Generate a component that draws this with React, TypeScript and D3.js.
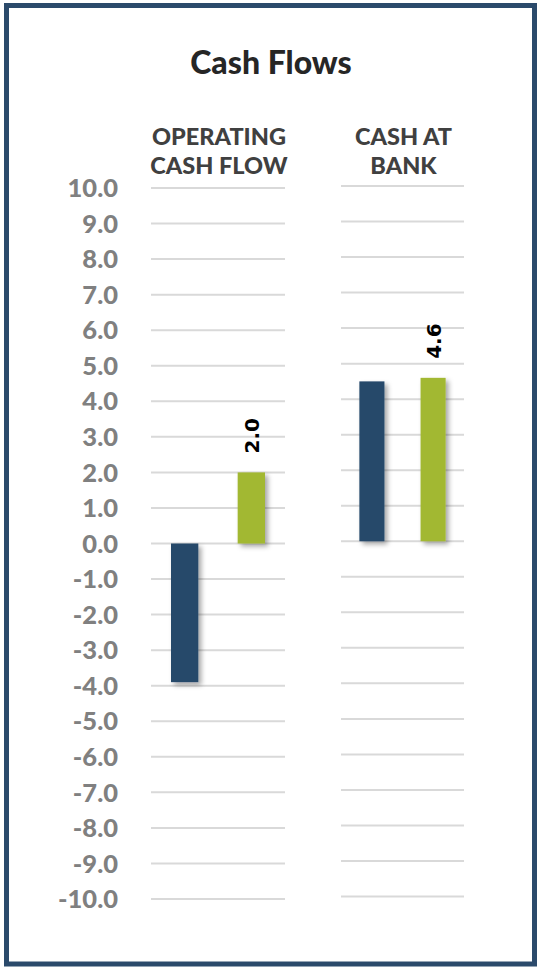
import React from "react";
import * as d3 from "d3";

const categories = ["OPERATING CASH FLOW", "CASH AT BANK"];
const categoryLines = [["OPERATING", "CASH FLOW"], ["CASH AT", "BANK"]];
const seriesNames = ["Prior", "Current"];
const seriesPrior = [-3.9, 4.5];
const seriesCurrent = [2.0, 4.6];
const tickValues = d3.range(10, -10.5, -1);
const labelFlags = [false, true];

const W = 538;
const H = 967;
const colors = ["#27496b", "#a2b832"];

// panel geometry per category
const panels = [
  { x0: 151, x1: 285, yTop: 188, yBot: 899 },
  { x0: 341, x1: 464, yTop: 186, yBot: 896.5 },
];

export default function App() {
  const series = [seriesPrior, seriesCurrent];
  const leftY = d3.scaleLinear().domain([10, -10]).range([panels[0].yTop, panels[0].yBot]);
  const fontNum = "Lato, 'Open Sans', sans-serif";
  return (
    <svg width={W} height={H} style={{ position: "absolute", left: 0, top: 0 }} xmlns="http://www.w3.org/2000/svg">
      <defs>
        <filter id="sh" x="-50%" y="-20%" width="200%" height="140%">
          <feDropShadow dx="3" dy="3" stdDeviation="2.5" floodColor="#000" floodOpacity="0.35" />
        </filter>
      </defs>
      <rect x={0} y={0} width={W} height={H} fill="#fff" />
      <rect x={6.5} y={5.5} width={528} height={958.5} fill="#fff" stroke="#2b4a6b" strokeWidth={5} />
      <text x={271} y={74} textAnchor="middle" fontFamily={fontNum} fontWeight={900} fontSize={32} fill="#262626">
        Cash Flows
      </text>
      {tickValues.map((v) => (
        <text key={v} x={118} y={leftY(v)} dy="0.36em" textAnchor="end" fontFamily={fontNum} fontWeight={900} fontSize={25.5} fill="#808080">
          {v.toFixed(1)}
        </text>
      ))}
      {categories.map((c, ci) => {
        const p = panels[ci];
        const y = d3.scaleLinear().domain([10, -10]).range([p.yTop, p.yBot]);
        const x = d3.scaleBand<number>().domain([0, 1]).range([p.x0, p.x1]).paddingInner(0.59).paddingOuter(0.3);
        const cx = (p.x0 + p.x1) / 2;
        return (
          <g key={c}>
            {categoryLines[ci].map((ln, li) => (
              <text key={li} x={cx + 1} y={145 + li * 29} textAnchor="middle" fontFamily={fontNum} fontWeight={900} fontSize={23.5} fill="#404040">
                {ln}
              </text>
            ))}
            {tickValues.map((v) => (
              <line key={v} x1={p.x0} x2={p.x1} y1={y(v)} y2={y(v)} stroke="#d9d9d9" strokeWidth={2} />
            ))}
            {series.map((s, si) => {
              const val = s[ci];
              const top = y(Math.max(0, val));
              const bot = y(Math.min(0, val));
              return (
                <g key={seriesNames[si]}>
                  <rect x={x(si)} y={top} width={x.bandwidth()} height={bot - top} fill={colors[si]} filter="url(#sh)" />
                  {labelFlags[si] && (
                    <text
                      transform={`translate(${(x(si) as number) + x.bandwidth() / 2 + 8},${top - 19}) rotate(-90)`}
                      fontFamily="'DejaVu Sans', sans-serif"
                      fontWeight={700}
                      fontSize={20}
                      fill="#000"
                    >
                      {val.toFixed(1)}
                    </text>
                  )}
                </g>
              );
            })}
          </g>
        );
      })}
    </svg>
  );
}
